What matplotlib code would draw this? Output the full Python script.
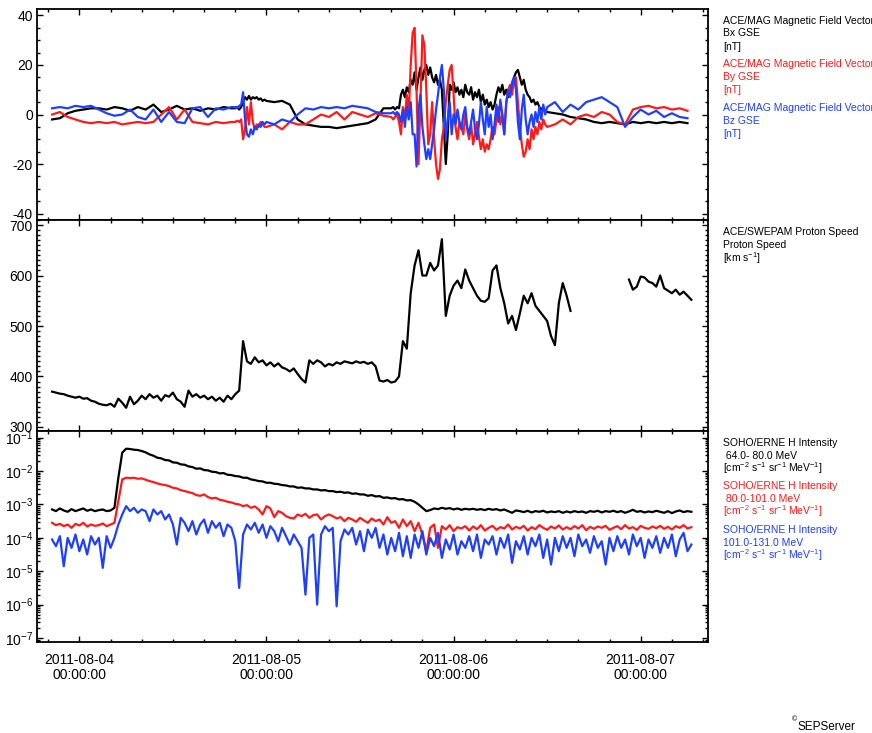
import numpy as np
import matplotlib.pyplot as plt
import matplotlib.dates as mdates
from matplotlib.ticker import MultipleLocator, LogLocator, NullFormatter

plt.rcParams['font.family'] = ['Liberation Sans', 'DejaVu Sans']
plt.rcParams['mathtext.fontset'] = 'custom'
plt.rcParams['mathtext.rm'] = 'Liberation Sans'
plt.rcParams['mathtext.it'] = 'Liberation Sans:italic'
plt.rcParams['mathtext.bf'] = 'Liberation Sans:bold'
plt.rcParams['axes.unicode_minus'] = False

# ---- data (hours after 2011-08-04 00:00 UT) ----
# ACE/MAG: coarse sampling in quiet time, 15 min in the active period
mag_hours = np.concatenate([np.arange(-3.5, 20, 1.0), np.arange(20, 24, 0.25),
                            np.arange(24, 40, 1.0), np.arange(40, 60, 0.25),
                            np.arange(60, 79, 1.0)])

bx = ([-2, -1.5, 0.5, 1.5, 2, 2.5, 2.5, 2, 3, 2.5, 1.5, 3, 2, 4, 1, 2, 3.5, 2, 2.5, 1.5, 2.5, 2, 3, 2.5]
      + [2.5, 3, 2, 3, 5, 7, 6, 7.5, 6, 7, 6.5, 7, 6, 6.5, 5.5, 6]
      + [5.5, 5, 5.5, 4, -2, -4, -4.5, -5, -5, -5.5, -5, -4.5, -4, -3.5, -2, 2.5]
      + [2.5, 3, 2, 3, 2.5, 8, 10, 7, 11, 9, 14, 12, 17, 10, 15, 19,
         14, 18, 20, 16, 19, 15, 13, 16, 12, 14, 10, -5, -20, -8, 12, 10,
         13, 9, 11, 8, 10, 7, 12, 9, 8, 11, 6, 9, 7, 10, 5, 8,
         4, 6, 3, 5, 2, 4, 8, 11, 9, 12, 8, 10, 7, 9, 12, 15,
         17, 18, 15, 12, 14, 10, 8, 7, 5, 6, 4, 5, 3, 2, 3, 1]
      + [1, 0.5, 0, -1, -1.5, -2, -3, -3.5, -3, -3.5, -4, -3, -3.5, -3, -3.5, -3, -3.5, -3, -3.5])

by = ([0, 1, -1, -2, -3, -3.5, -3, -3.5, -3, -4, -3.5, -3, -3.5, -3, 0, 3, -2, 2, -3, -3.5, -4, -3, -3.5, -3]
      + [-3, -2.5, -3, -2, -10, -6, 3, -4, 5, -3, -6, -4, -5, -3, -4, -5]
      + [-5, -4, -6, -3, -4, -4, -2, 0, -1, 1, -2, 1, 0, -1, 0.5, -0.5]
      + [-1, -2, -1, 0, -3, -8, 3, -2, 8, 0, 20, 33, 35, 10, -20, 5,
         32, 28, 10, -12, -8, 5, -10, -20, -26, -22, -10, -5, 5, 12, 18, 20,
         8, -5, -10, -3, -5, -8, 0, -6, -10, -4, -12, -8, -3, -9, -14, -10,
         -15, -12, -14, -10, -5, -8, -2, 3, -4, 0, -8, 5, 10, 12, 8, 14,
         15, 5, -5, -12, -17, -15, -10, -14, -6, -10, -5, -8, -3, -6, -2, -4]
      + [-5, -4, -2, -4, -1, 0, -1, 1, 0, -3, -4, 2, 3, 3.5, 2.5, 3, 2, 2.5, 1.5])

bz = ([2.5, 3, 2.5, 3.5, 3, 3.5, 2, 0.5, -0.5, 0, 2, -1, -2, 2, -3, 1, -3, -3.5, 2.5, 3, -1, 2.5, 2, 3]
      + [3, 2.5, 3.5, 4, 9, -2, -8, -9, -6, -8, -5, -6, -4, -5, -3, -4]
      + [-3, -4, -2, -3, 0, 2.5, 2, 3, 2.5, 3, 2.5, 3.5, 3, 2.5, 1, 0.5]
      + [0.5, 1, 0, 1, 0, -3, 2, -5, 3, -2, 5, -8, -8, -21, 2, 8,
         -5, -12, -18, -14, -18, -12, -6, 2, 8, 15, 20, 10, -10, -2, 5, -8,
         0, -4, 2, -3, -6, 0, 3, -5, -8, -3, 2, -6, -10, -4, 5, -2,
         -8, 3, -5, 0, -10, -4, 4, -3, 6, 0, -8, 4, 10, 7, 13, 15,
         10, -3, -10, 2, 8, -2, -8, -3, 0, -5, 1, -3, 3, -2, 4, 0]
      + [3, 5, 1, 4, 2, 5, 6, 7, 5, 3, -5, -1, 2, 0, 1.5, -1, 0.5, -1, -1.5])

# half-hour grid for speed and ERNE intensities
grid_hours = np.arange(-3.5, 78.6, 0.5)
nan = np.nan

speed = [370, 368, 366, 365, 362, 360, 358, 360, 356, 357, 352, 350,
         346, 344, 343, 346, 340, 356, 348, 338, 360, 345, 352, 362,
         355, 365, 358, 362, 352, 363, 360, 368, 355, 350, 340, 372,
         360, 365, 358, 362, 355, 360, 352, 358, 350, 362, 355, 365,
         372, 470, 430, 425, 438, 428, 432, 422, 428, 420, 426, 418,
         415, 410, 416, 405, 395, 388, 432, 425, 432, 428, 420, 425,
         422, 428, 425, 430, 428, 426, 430, 427, 429, 425, 428, 420,
         392, 390, 393, 388, 390, 400, 470, 455, 565, 620, 650, 600,
         600, 625, 610, 620, 672, 520, 560, 580, 590, 575, 612, 590,
         575, 560, 550, 548, 555, 610, 620, 575, 545, 505, 520, 492,
         525, 560, 545, 565, 540, 530, 520, 510, 480, 462, 545, 585,
         560, 530, nan, nan, nan, nan, nan, nan, nan, nan, nan, nan,
         nan, nan, nan, nan, 592, 572, 578, 598, 596, 588, 585, 578,
         600, 575, 570, 565, 572, 562, 568, 560, 552]

# log10 of intensity [cm-2 s-1 sr-1 MeV-1]
h64_log = [-3.15, -3.2, -3.12, -3.18, -3.22, -3.14, -3.2, -3.16, -3.12, -3.19, -3.15, -3.2,
           -3.17, -3.15, -3.2, -3.18, -3.1, -2.2, -1.45, -1.33, -1.34, -1.36, -1.37, -1.4,
           -1.44, -1.5, -1.54, -1.6, -1.62, -1.67, -1.68, -1.74, -1.75, -1.8, -1.81, -1.86,
           -1.88, -1.93, -1.92, -1.97, -1.98, -2.02, -2.03, -2.07, -2.06, -2.11, -2.12, -2.15,
           -2.16, -2.2, -2.2, -2.25, -2.27, -2.3, -2.31, -2.35, -2.35, -2.38, -2.39, -2.42,
           -2.43, -2.46, -2.46, -2.5, -2.49, -2.52, -2.52, -2.55, -2.55, -2.58, -2.57, -2.6,
           -2.6, -2.63, -2.62, -2.65, -2.64, -2.68, -2.67, -2.7, -2.7, -2.74, -2.72, -2.76,
           -2.75, -2.8, -2.79, -2.82, -2.81, -2.85, -2.84, -2.88, -2.87, -2.92, -3.0, -3.1,
           -3.2, -3.17, -3.12, -3.14, -3.1, -3.13, -3.11, -3.15, -3.12, -3.16, -3.13, -3.15,
           -3.13, -3.16, -3.14, -3.17, -3.13, -3.16, -3.14, -3.18, -3.15, -3.2, -3.25, -3.18,
           -3.2, -3.23, -3.19, -3.24, -3.2, -3.22, -3.19, -3.24, -3.21, -3.23, -3.2, -3.25,
           -3.21, -3.24, -3.2, -3.23, -3.21, -3.25, -3.2, -3.22, -3.19, -3.24, -3.2, -3.22,
           -3.19, -3.23, -3.2, -3.25, -3.21, -3.16, -3.22, -3.2, -3.24, -3.21, -3.23, -3.19,
           -3.22, -3.25, -3.2, -3.26, -3.21, -3.18, -3.23, -3.2, -3.22]

h80_log = [-3.55, -3.62, -3.58, -3.65, -3.6, -3.7, -3.58, -3.63, -3.55, -3.66, -3.6, -3.64,
           -3.62, -3.57, -3.65, -3.6, -3.55, -2.9, -2.25, -2.2, -2.21, -2.2, -2.23, -2.22,
           -2.26, -2.3, -2.33, -2.37, -2.4, -2.42, -2.45, -2.5, -2.52, -2.57, -2.6, -2.63,
           -2.66, -2.72, -2.74, -2.7, -2.78, -2.82, -2.8, -2.86, -2.88, -2.92, -2.94, -2.98,
           -3.0, -3.05, -3.02, -3.1, -3.06, -3.15, -3.3, -3.05, -3.12, -3.38, -3.2, -3.25,
           -3.35, -3.4, -3.42, -3.3, -3.35, -3.28, -3.4, -3.32, -3.3, -3.45, -3.35, -3.3,
           -3.35, -3.42, -3.38, -3.5, -3.4, -3.45, -3.52, -3.4, -3.48, -3.55, -3.42, -3.5,
           -3.45, -3.6, -3.38, -3.55, -3.5, -3.7, -3.45, -3.65, -3.5, -3.8, -3.55, -3.9,
           -4.4, -3.7, -3.6, -4.3, -3.65, -3.75, -3.62, -3.8, -3.68, -3.72, -3.65, -3.78,
           -3.66, -3.74, -3.62, -3.78, -3.7, -3.64, -3.76, -3.68, -3.72, -3.6, -3.75, -3.67,
           -3.72, -3.64, -3.78, -3.68, -3.74, -3.62, -3.7, -3.76, -3.66, -3.72, -3.63, -3.75,
           -3.68, -3.74, -3.65, -3.72, -3.62, -3.77, -3.67, -3.73, -3.66, -3.7, -3.64, -3.76,
           -3.7, -3.65, -3.74, -3.62, -3.72, -3.68, -3.76, -3.64, -3.7, -3.73, -3.66, -3.71,
           -3.64, -3.73, -3.67, -3.75, -3.65, -3.7, -3.62, -3.72, -3.68]

h101_log = [-4.05, -4.25, -3.95, -4.85, -4.0, -4.3, -3.9, -4.4, -4.05, -4.5, -3.95, -4.2,
            -4.0, -4.9, -3.95, -4.3, -4.0, -3.6, -3.3, -3.05, -3.2, -3.1, -3.25, -3.15,
            -3.2, -3.5, -3.15, -3.3, -3.2, -3.45, -3.3, -3.6, -4.2, -3.4, -3.55, -3.8,
            -3.5, -3.9, -3.6, -3.45, -3.85, -3.5, -3.7, -3.55, -3.95, -3.6, -3.7, -4.1,
            -5.5, -3.9, -3.6, -3.75, -3.55, -3.85, -3.6, -4.0, -3.65, -3.8, -4.1, -3.7,
            -3.95, -4.2, -3.9, -4.1, -4.3, -5.7, -4.0, -3.9, -6.0, -3.9, -3.65, -3.8,
            -3.7, -6.05, -4.1, -3.75, -3.9, -3.7, -4.2, -3.8, -4.4, -3.75, -4.0, -3.7,
            -4.3, -3.9, -4.5, -4.0, -4.4, -3.85, -4.55, -3.95, -4.6, -3.9, -4.3, -3.8,
            -4.5, -4.0, -4.25, -3.85, -4.6, -4.05, -4.35, -3.9, -4.5, -4.1, -4.3, -3.95,
            -4.4, -3.9, -4.6, -4.05, -4.2, -3.95, -4.5, -4.0, -4.3, -3.9, -4.75, -4.1,
            -4.35, -3.95, -4.5, -4.0, -4.25, -3.9, -4.6, -4.05, -4.8, -4.0, -4.4, -3.95,
            -4.3, -4.0, -4.55, -3.9, -4.25, -4.05, -4.45, -3.95, -4.3, -4.1, -4.8, -4.0,
            -4.4, -3.95, -4.3, -4.05, -4.5, -3.9, -4.25, -4.0, -4.6, -4.05, -4.3, -3.95,
            -4.45, -4.0, -4.3, -3.9, -4.55, -4.05, -3.85, -4.4, -4.2]

BLACK, RED, BLUE = 'black', '#ff1a1a', '#1f3fff'


def to_time(hours):
    t0 = np.datetime64('2011-08-04T00:00')
    return t0 + np.round(np.asarray(hours) * 60).astype(int).astype('timedelta64[m]')


W, H = 872, 733
fig = plt.figure(figsize=(W / 100, H / 100), dpi=100)
left, width = 37 / W, (708 - 37) / W
ph = 211 / H
ax1 = fig.add_axes([left, 1 - 220 / H, width, ph])
ax2 = fig.add_axes([left, 1 - 431 / H, width, ph])
ax3 = fig.add_axes([left, 1 - 642 / H, width, ph])

tm = to_time(mag_hours)
tg = to_time(grid_hours)
lw = 1.6
ax1.plot(tm, bx, color=BLACK, lw=lw)
ax1.plot(tm, by, color=RED, lw=lw)
ax1.plot(tm, bz, color=BLUE, lw=lw)
ax1.set_ylim(-42.6, 42.6)
ax1.yaxis.set_major_locator(MultipleLocator(20))
ax1.yaxis.set_minor_locator(MultipleLocator(5))

ax2.plot(tg, speed, color=BLACK, lw=lw)
ax2.set_ylim(292, 710)
ax2.yaxis.set_major_locator(MultipleLocator(100))
ax2.yaxis.set_minor_locator(MultipleLocator(10))

ax3.plot(tg, 10 ** np.array(h64_log), color=BLACK, lw=lw)
ax3.plot(tg, 10 ** np.array(h80_log), color=RED, lw=lw)
ax3.plot(tg, 10 ** np.array(h101_log), color=BLUE, lw=lw)
ax3.set_yscale('log')
ax3.set_ylim(10 ** -7.12, 10 ** -0.8)
ax3.yaxis.set_major_locator(LogLocator(base=10, numticks=20))
ax3.yaxis.set_minor_locator(LogLocator(base=10, subs=np.arange(2, 10), numticks=20))
ax3.yaxis.set_minor_formatter(NullFormatter())

for ax in (ax1, ax2, ax3):
    ax.set_xlim(to_time(-5.43), to_time(80.63))
    ax.xaxis.set_major_locator(mdates.DayLocator())
    ax.xaxis.set_minor_locator(mdates.HourLocator(byhour=range(0, 24, 4)))
    ax.xaxis.set_major_formatter(mdates.DateFormatter('%Y-%m-%d\n%H:%M:%S'))
    ax.tick_params(which='both', direction='in', top=True, right=True,
                   labelsize=10, width=1, pad=3)
    ax.tick_params(which='major', length=4.5)
    ax.tick_params(which='minor', length=2.3)
    for s in ax.spines.values():
        s.set_linewidth(1.3)
for ax in (ax1, ax2):
    ax.tick_params(axis='x', labelbottom=False)
ax3.tick_params(axis='x', pad=8)
for lab in ax3.get_xticklabels():
    lab.set_linespacing(1.05)

# right-hand labels
def block(y0, lines, color, step=13):
    for i, s in enumerate(lines):
        fig.text(723 / W, 1 - (y0 + i * step) / H, s, color=color,
                 fontsize=7.5, va='center', ha='left')

unit = r'[cm$^{-2}$ s$^{-1}$ sr$^{-1}$ MeV$^{-1}$]'
block(20.5, ['ACE/MAG Magnetic Field Vector', 'Bx GSE', '[nT]'], BLACK)
block(64, ['ACE/MAG Magnetic Field Vector', 'By GSE', '[nT]'], RED)
block(108, ['ACE/MAG Magnetic Field Vector', 'Bz GSE', '[nT]'], BLUE)
block(232, ['ACE/SWEPAM Proton Speed', 'Proton Speed', r'[km s$^{-1}$]'], BLACK)
block(443, ['SOHO/ERNE H Intensity', ' 64.0- 80.0 MeV', unit], BLACK, 12.5)
block(486, ['SOHO/ERNE H Intensity', ' 80.0-101.0 MeV', unit], RED, 12.5)
block(530, ['SOHO/ERNE H Intensity', '101.0-131.0 MeV', unit], BLUE, 12.5)

fig.text(792 / W, 1 - 720 / H, '©', fontsize=5, va='center', ha='left')
fig.text(797 / W, 1 - 727 / H, 'SEPServer', fontsize=8.5, va='center', ha='left')

fig.savefig('out.png', dpi=100)
